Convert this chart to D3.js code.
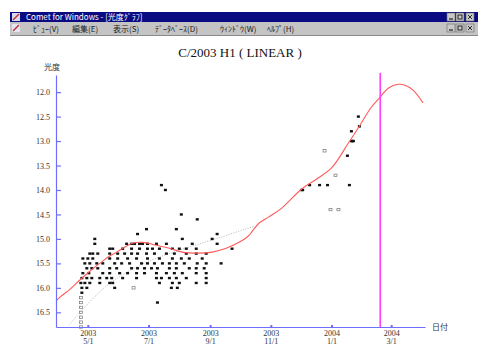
<!DOCTYPE html>
<html>
<head>
<meta charset="utf-8">
<script src="https://cdn.jsdelivr.net/npm/d3@7"></script>
<style>
  body { margin: 0; background: #fff; }
  svg { display: block; }
</style>
</head>
<body>
<svg id="chart" width="478" height="362"></svg>
<script>
// ---- data ----
const windowTitle = "Comet for Windows - [光度ｸﾞﾗﾌ]";
const menuItems = ["ﾋﾞｭｰ(V)", "編集(E)", "表示(S)", "ﾃﾞｰﾀﾍﾞｰｽ(D)", "ｳｨﾝﾄﾞｳ(W)", "ﾍﾙﾌﾟ(H)"];
const chartTitle = "C/2003 H1 ( LINEAR )";
const yAxisLabel = "光度";
const xAxisLabel = "日付";

const magTicks = [12.0, 12.5, 13.0, 13.5, 14.0, 14.5, 15.0, 15.5, 16.0, 16.5];
const dateTicks = ["2003-05-01", "2003-07-01", "2003-09-01", "2003-11-01", "2004-01-01", "2004-03-01"];

// predicted light curve
const lightCurve = [
  ["2003-03-30", 16.27], ["2003-04-03", 16.19], ["2003-04-13", 16.03], ["2003-04-23", 15.84],
  ["2003-05-03", 15.66], ["2003-05-13", 15.50], ["2003-05-23", 15.35], ["2003-05-30", 15.27],
  ["2003-06-07", 15.17], ["2003-06-15", 15.09], ["2003-06-25", 15.07], ["2003-07-09", 15.13],
  ["2003-07-22", 15.19], ["2003-08-04", 15.27], ["2003-08-21", 15.29], ["2003-09-03", 15.27],
  ["2003-09-17", 15.19], ["2003-09-30", 15.07], ["2003-10-10", 14.93], ["2003-10-13", 14.85],
  ["2003-10-20", 14.68], ["2003-10-30", 14.55], ["2003-11-12", 14.37], ["2003-12-02", 13.98],
  ["2003-12-16", 13.79], ["2004-01-01", 13.55], ["2004-01-18", 13.04], ["2004-01-31", 12.63],
  ["2004-02-10", 12.31], ["2004-02-19", 12.10], ["2004-02-27", 11.92], ["2004-03-08", 11.84],
  ["2004-03-15", 11.86], ["2004-03-23", 11.96], ["2004-04-02", 12.22]
];

// earlier fit
const earlyFit = [
  ["2003-04-12", 16.76], ["2003-05-18", 15.99], ["2003-06-22", 15.54],
  ["2003-08-01", 15.23], ["2003-09-11", 14.97], ["2003-10-15", 14.74]
];

// observed magnitudes
const observations = [
  ["2003-07-14", 13.9], ["2003-07-18", 14.0],
  ["2003-08-03", 14.5], ["2003-08-19", 14.6],
  ["2003-06-29", 14.8], ["2003-07-29", 14.8],
  ["2003-06-20", 14.9], ["2003-09-08", 14.9],
  ["2003-05-08", 15.0], ["2003-08-04", 15.0], ["2003-09-03", 15.0],
  ["2003-05-08", 15.1], ["2003-06-09", 15.1], ["2003-06-14", 15.1], ["2003-06-17", 15.1],
  ["2003-06-22", 15.1], ["2003-06-25", 15.1], ["2003-06-30", 15.1], ["2003-07-09", 15.1],
  ["2003-07-19", 15.1], ["2003-08-14", 15.1], ["2003-09-08", 15.1],
  ["2003-05-23", 15.2], ["2003-05-26", 15.2], ["2003-06-05", 15.2], ["2003-06-14", 15.2],
  ["2003-06-22", 15.2], ["2003-06-30", 15.2], ["2003-07-05", 15.2], ["2003-07-12", 15.2],
  ["2003-07-25", 15.2], ["2003-08-01", 15.2], ["2003-08-08", 15.2], ["2003-08-18", 15.2],
  ["2003-09-23", 15.2],
  ["2003-05-03", 15.3], ["2003-05-06", 15.3], ["2003-05-11", 15.3], ["2003-05-23", 15.3],
  ["2003-05-31", 15.3], ["2003-06-07", 15.3], ["2003-06-14", 15.3], ["2003-06-20", 15.3],
  ["2003-06-29", 15.3], ["2003-07-07", 15.3], ["2003-07-19", 15.3], ["2003-07-27", 15.3],
  ["2003-08-08", 15.3], ["2003-08-18", 15.3], ["2003-08-28", 15.3],
  ["2003-04-26", 15.4], ["2003-05-01", 15.4], ["2003-05-06", 15.4], ["2003-05-23", 15.4],
  ["2003-05-31", 15.4], ["2003-06-10", 15.4], ["2003-06-19", 15.4], ["2003-06-30", 15.4],
  ["2003-07-12", 15.4], ["2003-07-25", 15.4], ["2003-08-03", 15.4], ["2003-08-11", 15.4],
  ["2003-08-24", 15.4],
  ["2003-04-28", 15.5], ["2003-05-03", 15.5], ["2003-05-10", 15.5], ["2003-05-16", 15.5],
  ["2003-05-28", 15.5], ["2003-06-04", 15.5], ["2003-06-12", 15.5], ["2003-06-24", 15.5],
  ["2003-06-30", 15.5], ["2003-07-07", 15.5], ["2003-07-15", 15.5], ["2003-07-22", 15.5],
  ["2003-07-29", 15.5], ["2003-08-06", 15.5], ["2003-08-19", 15.5], ["2003-08-28", 15.5],
  ["2003-09-12", 15.5],
  ["2003-04-30", 15.6], ["2003-05-05", 15.6], ["2003-05-11", 15.6], ["2003-05-23", 15.6],
  ["2003-05-30", 15.6], ["2003-06-14", 15.6], ["2003-06-20", 15.6], ["2003-06-27", 15.6],
  ["2003-07-04", 15.6], ["2003-07-10", 15.6], ["2003-07-22", 15.6], ["2003-07-29", 15.6],
  ["2003-08-11", 15.6], ["2003-08-18", 15.6], ["2003-08-26", 15.6],
  ["2003-04-26", 15.7], ["2003-05-02", 15.7], ["2003-05-16", 15.7], ["2003-05-23", 15.7],
  ["2003-06-02", 15.7], ["2003-06-10", 15.7], ["2003-06-19", 15.7], ["2003-06-27", 15.7],
  ["2003-07-09", 15.7], ["2003-07-19", 15.7], ["2003-07-27", 15.7], ["2003-08-04", 15.7],
  ["2003-08-18", 15.7], ["2003-08-28", 15.7],
  ["2003-04-25", 15.8], ["2003-04-30", 15.8], ["2003-05-05", 15.8], ["2003-05-13", 15.8],
  ["2003-05-20", 15.8], ["2003-05-25", 15.8], ["2003-06-05", 15.8], ["2003-06-19", 15.8],
  ["2003-07-09", 15.8], ["2003-07-14", 15.8], ["2003-07-22", 15.8], ["2003-07-29", 15.8],
  ["2003-08-08", 15.8], ["2003-08-28", 15.8],
  ["2003-04-24", 15.9], ["2003-04-28", 15.9], ["2003-05-03", 15.9], ["2003-05-13", 15.9],
  ["2003-05-23", 15.9], ["2003-05-26", 15.9], ["2003-07-12", 15.9], ["2003-07-25", 15.9],
  ["2003-08-01", 15.9], ["2003-08-18", 15.9], ["2003-08-28", 15.9],
  ["2003-04-25", 16.0], ["2003-04-30", 16.0], ["2003-05-28", 16.0], ["2003-07-24", 16.0],
  ["2003-07-30", 16.0],
  ["2003-04-25", 16.1], ["2003-07-10", 16.3],
  ["2004-01-28", 12.5], ["2004-01-29", 12.7], ["2004-01-21", 12.8],
  ["2004-01-21", 13.0], ["2004-01-22", 13.0], ["2004-01-23", 13.0],
  ["2004-01-17", 13.3],
  ["2003-12-10", 13.9], ["2003-12-20", 13.9], ["2003-12-28", 13.9], ["2004-01-19", 13.9],
  ["2003-12-02", 14.0], ["2003-12-03", 14.0]
];

// faint / uncertain estimates
const faintObservations = [
  ["2003-04-24", 16.2], ["2003-04-24", 16.3], ["2003-04-24", 16.4], ["2003-04-24", 16.5],
  ["2003-04-24", 16.6], ["2003-04-24", 16.7], ["2003-04-24", 16.8],
  ["2003-06-16", 16.0],
  ["2003-12-25", 13.2], ["2004-01-05", 13.7],
  ["2003-12-31", 14.4], ["2004-01-08", 14.4]
];

const currentDate = "2004-02-19";

// ---- drawing ----
const parse = d3.utcParse("%Y-%m-%d");
const svg = d3.select("#chart");
const W = 478, H = 362;
const uiFont = "'Noto Sans CJK JP', 'DejaVu Sans', sans-serif";

svg.append("rect").attr("width", W).attr("height", H).attr("fill", "#ffffff");

// window frame: title bar
const frameX = 10;
svg.append("rect").attr("x", frameX).attr("y", 12).attr("width", W - frameX).attr("height", 10)
  .attr("fill", "#0a0a82");
svg.append("rect").attr("x", frameX + 2).attr("y", 13).attr("width", 8).attr("height", 8).attr("fill", "#d8d8ee");
svg.append("path").attr("d", `M${frameX + 3},20 L${frameX + 9},14`).attr("stroke", "#c03030").attr("stroke-width", 1.5);
svg.append("text").attr("x", frameX + 16).attr("y", 20)
  .attr("font-family", uiFont).attr("font-size", 8)
  .attr("fill", "#ffffff").text(windowTitle);

// menu bar
svg.append("rect").attr("x", frameX).attr("y", 22).attr("width", W - frameX).attr("height", 13)
  .attr("fill", "#c4c4c4");
svg.append("rect").attr("x", frameX + 2).attr("y", 24).attr("width", 8).attr("height", 8).attr("fill", "#e4e4f0");
svg.append("path").attr("d", `M${frameX + 3},31 L${frameX + 9},25`).attr("stroke", "#c03030").attr("stroke-width", 1.5);
const menuX = [33, 72, 113, 155, 220, 267];
svg.selectAll("text.menu").data(menuItems).join("text")
  .attr("class", "menu")
  .attr("x", (d, i) => menuX[i]).attr("y", 32)
  .attr("font-family", uiFont).attr("font-size", 8)
  .attr("fill", "#202020").text(d => d);
svg.append("line").attr("x1", frameX).attr("x2", W).attr("y1", 35.5).attr("y2", 35.5).attr("stroke", "#8a8a8a");

// caption buttons (title bar and menu bar)
[13, 24].forEach(by => {
  [447, 456, 466].forEach(bx => {
    svg.append("rect").attr("x", bx).attr("y", by).attr("width", 8).attr("height", 8)
      .attr("fill", "#c8c8c8").attr("stroke", "#6a6a6a").attr("stroke-width", 0.6);
  });
  svg.append("path").attr("d", `M449,${by + 6}h4`).attr("stroke", "#000");
  svg.append("rect").attr("x", 458).attr("y", by + 2).attr("width", 4).attr("height", 4).attr("fill", "none").attr("stroke", "#000").attr("stroke-width", 0.8);
  svg.append("path").attr("d", `M468,${by + 2}l4,4M472,${by + 2}l-4,4`).attr("stroke", "#000").attr("stroke-width", 0.8);
});

// scales
const x = d3.scaleUtc()
  .domain([parse("2003-03-30"), parse("2004-04-04")])
  .range([56, 425]);
const y = d3.scaleLinear()
  .domain([11.65, 16.8])
  .range([75, 327]);

const axisColor = "#6f6fff";
const labelFont = "'Liberation Serif', 'DejaVu Serif', serif";

// chart title
svg.append("text").attr("x", 240).attr("y", 57).attr("text-anchor", "middle")
  .attr("font-family", labelFont).attr("font-size", 13).attr("fill", "#111")
  .text(chartTitle);

// earlier fit (grey dotted)
const lineGen = d3.line()
  .x(d => x(parse(d[0])))
  .y(d => y(d[1]))
  .curve(d3.curveCatmullRom.alpha(0.5));

svg.append("path").datum(earlyFit)
  .attr("d", lineGen).attr("fill", "none")
  .attr("stroke", "#b8b8b8").attr("stroke-width", 1).attr("stroke-dasharray", "1,1.5");

// observations
svg.append("g").selectAll("rect").data(observations).join("rect")
  .attr("x", d => x(parse(d[0])) - 1.5)
  .attr("y", d => y(d[1]) - 1.2)
  .attr("width", 3).attr("height", 2.4)
  .attr("fill", "#111");

svg.append("g").selectAll("rect").data(faintObservations).join("rect")
  .attr("x", d => x(parse(d[0])) - 1.5)
  .attr("y", d => y(d[1]) - 1.2)
  .attr("width", 3).attr("height", 2.4)
  .attr("fill", "none").attr("stroke", "#777").attr("stroke-width", 0.7);

// predicted light curve (red)
svg.append("path").datum(lightCurve)
  .attr("d", lineGen).attr("fill", "none")
  .attr("stroke", "#ff5a5a").attr("stroke-width", 1.1);

// current date marker
svg.append("line")
  .attr("x1", x(parse(currentDate))).attr("x2", x(parse(currentDate)))
  .attr("y1", 73).attr("y2", 327)
  .attr("stroke", "#ff3cff").attr("stroke-width", 1.6);

// y axis
const yAxis = d3.axisLeft(y).tickValues(magTicks)
  .tickFormat(d3.format(".1f"))
  .tickSizeInner(-5).tickSizeOuter(0).tickPadding(6);
const gy = svg.append("g").attr("transform", "translate(56,0)").call(yAxis);
gy.select(".domain").attr("stroke", axisColor).attr("stroke-width", 1.2);
gy.selectAll(".tick line").attr("stroke", axisColor).attr("stroke-width", 1.2);
gy.selectAll(".tick text").attr("font-family", labelFont).attr("font-size", 8).attr("fill", "#333");

// x axis
const xAxis = d3.axisBottom(x).tickValues(dateTicks.map(parse))
  .tickSizeInner(-2).tickSizeOuter(0).tickPadding(3)
  .tickFormat(d3.utcFormat("%Y"));
const gx = svg.append("g").attr("transform", "translate(0,327)").call(xAxis);
gx.select(".domain").attr("stroke", axisColor).attr("stroke-width", 1.2);
gx.selectAll(".tick line").attr("stroke", axisColor).attr("stroke-width", 2);
gx.selectAll(".tick text")
  .attr("font-family", labelFont).attr("font-size", 8).attr("fill", "#333")
  .each(function (d) {
    const t = d3.select(this);
    t.text(null);
    t.append("tspan").attr("x", 0).attr("dy", "0.71em").text(d3.utcFormat("%Y")(d));
    t.append("tspan").attr("x", 0).attr("dy", "1.1em")
      .text(`${d.getUTCMonth() + 1}/${d.getUTCDate()}`);
  });

// axis titles
svg.append("text").attr("x", 52).attr("y", 70).attr("text-anchor", "middle")
  .attr("font-family", uiFont).attr("font-size", 8).attr("fill", "#333")
  .text(yAxisLabel);
svg.append("text").attr("x", 432).attr("y", 330)
  .attr("font-family", uiFont).attr("font-size", 8).attr("fill", "#333")
  .text(xAxisLabel);
</script>
</body>
</html>
